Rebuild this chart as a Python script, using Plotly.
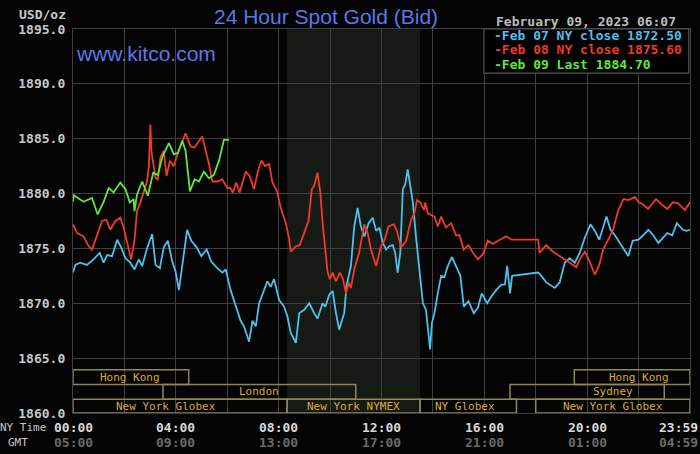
import plotly.graph_objects as go

# time of day in hours (NY time), price in USD/oz
feb07_hours = [0, 0.09, 0.28, 0.54, 0.8, 1.04, 1.19, 1.33, 1.52, 1.72, 1.87, 2.04, 2.23, 2.39, 2.56,
               2.69, 2.88, 3.08, 3.21, 3.38, 3.53, 3.69, 3.86, 3.99, 4.12, 4.29, 4.44, 4.6, 4.81,
               4.99, 5.2, 5.38, 5.61, 5.81, 5.94, 6.13, 6.33, 6.52, 6.65, 6.85, 6.98, 7.11, 7.24,
               7.39, 7.56, 7.69, 7.82, 8.02, 8.21, 8.34, 8.47, 8.67, 8.8, 8.99, 9.19, 9.38, 9.51,
               9.71, 9.82, 9.97, 10.1, 10.23, 10.35, 10.55, 10.64, 10.81, 10.94, 11.07, 11.2,
               11.33, 11.5, 11.66, 11.79, 11.92, 12.05, 12.18, 12.3, 12.44, 12.53, 12.63, 12.73,
               12.83, 12.92, 13.02, 13.08, 13.22, 13.34, 13.47, 13.61, 13.73, 13.82, 13.89, 13.96,
               14.06, 14.19, 14.32, 14.45, 14.58, 14.74, 14.9, 15.07, 15.2, 15.38, 15.59, 15.75,
               15.9, 16.11, 16.27, 16.46, 16.66, 16.8, 16.89, 17.0, 17.08, 17.45, 18.09, 18.22,
               18.41, 18.74, 18.93, 19.13, 19.32, 19.52, 19.71, 19.91, 20.13, 20.3, 20.47, 20.62,
               20.75, 20.91, 21.08, 21.27, 21.47, 21.6, 21.77, 22.0, 22.18, 22.38, 22.57, 22.77,
               22.96, 23.12, 23.31, 23.49, 23.72, 23.87, 24.0]
feb07_price = [1872.8, 1873.5, 1873.7, 1873.5, 1874.0, 1874.6, 1873.7, 1874.4, 1874.3, 1875.8, 1875.1,
               1874.1, 1873.7, 1873.1, 1874.0, 1873.4, 1875.0, 1876.3, 1873.5, 1873.2, 1875.1,
               1875.7, 1873.8, 1872.9, 1871.2, 1874.4, 1876.7, 1875.7, 1875.1, 1874.3, 1874.9,
               1873.8, 1873.2, 1872.8, 1873.1, 1871.2, 1869.7, 1868.4, 1867.9, 1866.5, 1868.4,
               1867.9, 1870.0, 1870.9, 1872.0, 1871.5, 1872.2, 1870.3, 1869.7, 1868.8, 1867.3,
               1866.4, 1869.1, 1869.4, 1870.0, 1869.1, 1868.6, 1870.0, 1869.7, 1870.8, 1871.1,
               1869.1, 1867.6, 1869.1, 1871.6, 1873.4, 1877.0, 1878.7, 1877.0, 1876.1, 1877.3,
               1877.8, 1876.6, 1876.9, 1875.5, 1874.9, 1875.2, 1875.3, 1874.6, 1872.8, 1874.6,
               1880.4, 1880.8, 1882.2, 1881.3, 1879.2, 1876.1, 1873.1, 1870.0, 1869.4, 1867.3,
               1865.8, 1868.2, 1869.1, 1870.9, 1872.5, 1872.4, 1873.4, 1874.2, 1873.4, 1872.5,
               1869.7, 1870.2, 1869.1, 1869.6, 1870.9, 1870.0, 1870.6, 1871.2, 1871.7, 1871.7,
               1873.4, 1870.9, 1872.5, 1872.6, 1872.8, 1872.5, 1871.9, 1871.4, 1871.9, 1873.7,
               1874.1, 1873.7, 1874.6, 1876.0, 1877.2, 1876.6, 1875.8, 1876.9, 1877.9, 1876.7,
               1876.2, 1875.5, 1874.7, 1874.3, 1875.7, 1875.8, 1876.2, 1876.7, 1876.2, 1875.5,
               1876.0, 1876.4, 1876.2, 1877.3, 1876.7, 1876.6, 1876.7]

feb08_hours = [0, 0.16, 0.41, 0.61, 0.74, 0.94, 1.13, 1.3, 1.45, 1.65, 1.84, 1.97, 2.13, 2.26, 2.39,
               2.49, 2.62, 2.75, 2.88, 2.95, 3.01, 3.05, 3.21, 3.3, 3.4, 3.53, 3.64, 3.77, 3.92,
               4.08, 4.25, 4.38, 4.57, 4.73, 4.9, 5.03, 5.16, 5.29, 5.42, 5.61, 5.81, 6.0, 6.13,
               6.22, 6.35, 6.48, 6.72, 6.87, 7.04, 7.21, 7.34, 7.47, 7.63, 7.76, 7.95, 8.08, 8.28,
               8.41, 8.47, 8.67, 8.82, 8.99, 9.16, 9.29, 9.38, 9.51, 9.62, 9.71, 9.81, 9.9, 9.99,
               10.1, 10.23, 10.38, 10.49, 10.62, 10.72, 10.81, 10.94, 11.13, 11.33, 11.46, 11.59,
               11.79, 11.98, 12.11, 12.27, 12.48, 12.6, 12.76, 12.96, 13.15, 13.28, 13.38, 13.51,
               13.65, 13.7, 13.8, 14.06, 14.19, 14.32, 14.51, 14.71, 14.9, 15.03, 15.2, 15.38,
               15.56, 15.75, 15.95, 16.14, 16.33, 16.53, 16.85, 17.05, 18.09, 18.15, 18.41, 18.67,
               18.93, 19.13, 19.32, 19.58, 19.71, 19.91, 20.1, 20.3, 20.47, 20.62, 20.82, 21.01,
               21.21, 21.41, 21.6, 21.86, 22.0, 22.18, 22.37, 22.68, 22.9, 23.12, 23.33, 23.54,
               23.8, 24.0]
feb08_price = [1877.2, 1876.4, 1876.1, 1875.2, 1874.9, 1876.3, 1877.5, 1877.6, 1876.7, 1877.5, 1877.8,
               1876.9, 1875.4, 1874.0, 1875.7, 1878.4, 1879.2, 1880.2, 1881.1, 1882.4, 1886.3,
               1883.9, 1881.4, 1881.3, 1883.3, 1883.9, 1881.6, 1883.0, 1882.5, 1883.7, 1884.8,
               1885.5, 1884.3, 1884.2, 1884.8, 1885.2, 1883.9, 1882.7, 1881.1, 1881.1, 1881.3,
               1880.5, 1880.5, 1880.1, 1881.0, 1880.1, 1882.0, 1881.6, 1880.4, 1882.2, 1883.0,
               1882.5, 1882.7, 1881.0, 1880.1, 1878.7, 1877.3, 1875.8, 1874.7, 1875.2, 1875.3,
               1876.4, 1877.5, 1880.4, 1880.7, 1881.9, 1880.1, 1877.3, 1874.9, 1872.9, 1872.2,
               1872.8, 1872.0, 1872.8, 1872.3, 1870.9, 1871.9, 1871.4, 1873.1, 1874.6, 1877.2,
               1876.4, 1874.9, 1873.4, 1875.2, 1875.7, 1877.0, 1877.2, 1876.6, 1875.1, 1875.7,
               1877.6, 1878.2, 1879.4, 1879.2, 1878.5, 1879.2, 1878.2, 1877.9, 1877.0, 1877.9,
               1876.9, 1877.3, 1876.2, 1876.2, 1874.9, 1875.3, 1874.6, 1874.0, 1874.5, 1875.7,
               1875.4, 1875.7, 1876.1, 1875.8, 1875.8, 1874.6, 1875.3, 1874.7, 1874.3, 1874.0,
               1873.7, 1873.3, 1874.0, 1874.7, 1873.8, 1872.6, 1873.5, 1874.9, 1875.8, 1876.7,
               1878.5, 1879.5, 1879.4, 1879.7, 1879.2, 1879.0, 1878.6, 1879.5, 1879.0, 1878.6,
               1879.2, 1879.1, 1878.5, 1879.2]

feb09_hours = [0, 0.03, 0.41, 0.74, 0.96, 1.19, 1.39, 1.58, 1.84, 2.04, 2.21, 2.36, 2.39, 2.49, 2.69,
               2.91, 3.12, 3.3, 3.47, 3.73, 3.92, 4.08, 4.25, 4.38, 4.55, 4.73, 4.9, 5.09, 5.29,
               5.48, 5.68, 5.87, 6.07]
feb09_price = [1879.25, 1879.85, 1879.25, 1879.6, 1878.1, 1879.25, 1880.5, 1880.1, 1881.0, 1880.4,
               1879.2, 1879.5, 1878.4, 1879.9, 1881.1, 1879.8, 1881.9, 1881.7, 1883.3, 1884.6,
               1883.6, 1883.7, 1884.8, 1883.9, 1880.2, 1881.3, 1881.1, 1882.0, 1881.4, 1881.7,
               1883.0, 1884.9, 1884.9]

legend_labels = ["Feb 07 NY close", "Feb 08 NY close", "Feb 09 Last"]
legend_values = [1872.50, 1875.60, 1884.70]

# trading sessions: name, start hour, end hour, row (0 = bottom)
session_names = ["Hong Kong", "Hong Kong", "London", "Sydney", "New York Globex",
                 "New York NYMEX", "NY Globex", "New York Globex"]
session_start = [0, 19.5, 3.5, 17.0, 0, 8.33, 13.5, 18.0]
session_end = [4.5, 24, 11.0, 23.0, 8.33, 13.5, 17.25, 24]
session_row = [2, 2, 1, 1, 0, 0, 0, 0]
session_label_hour = [2.2, 22.0, 7.25, 21.0, 3.6, 10.9, 15.25, 21.0]

nymex_start, nymex_end = 8.33, 13.5

ny_ticks = ["00:00", "04:00", "08:00", "12:00", "16:00", "20:00", "23:59"]
gmt_ticks = ["05:00", "09:00", "13:00", "17:00", "21:00", "01:00", "04:59"]
tick_hours = [0, 4, 8, 12, 16, 20, 23.55]

colors = ["#4fbfee", "#ee3b26", "#63e63a"]
mono = "DejaVu Sans Mono"
bg = "#040404"
grid = "#404040"

fig = go.Figure()

for hrs, vals, c in zip([feb07_hours, feb08_hours, feb09_hours],
                        [feb07_price, feb08_price, feb09_price], colors):
    fig.add_trace(go.Scatter(x=hrs, y=vals, mode="lines",
                             line=dict(color=c, width=1.8), hoverinfo="skip"))

shapes = []
# NYMEX hours shading
shapes.append(dict(type="rect", xref="x", yref="paper", x0=nymex_start, x1=nymex_end,
                   y0=0, y1=1, fillcolor="#161a15", line_width=0, layer="below"))

row_edges = [1860, 1861.26, 1862.6, 1863.95]
annotations = []
for name, s, e, r, lh in zip(session_names, session_start, session_end, session_row,
                             session_label_hour):
    shapes.append(dict(type="rect", xref="x", yref="y", x0=s, x1=e,
                       y0=row_edges[r], y1=row_edges[r + 1],
                       line=dict(color="#8c8756", width=1.5), layer="above"))
    annotations.append(dict(x=lh, y=(row_edges[r] + row_edges[r + 1]) / 2, xref="x", yref="y",
                            text=name, showarrow=False,
                            font=dict(family=mono, size=11, color="#dcaa2c")))

# legend box
shapes.append(dict(type="rect", xref="paper", yref="paper", x0=0.666, x1=0.998, y0=0.885, y1=1.0,
                   fillcolor="#000000", line=dict(color="#555555", width=1.2), layer="above"))
for i, (lab, val, c) in enumerate(zip(legend_labels, legend_values, colors)):
    annotations.append(dict(x=0.679, y=1.0, xref="paper", yref="paper", xanchor="left",
                            yanchor="middle", yshift=-6.5 - 14.3 * i,
                            text="<b>-%s %.2f</b>" % (lab, val), showarrow=False,
                            font=dict(family=mono, size=13, color=c)))

annotations += [
    dict(x=0.41, y=1.0, xref="paper", yref="paper", yshift=13, yanchor="middle",
         text="24 Hour Spot Gold (Bid)", showarrow=False,
         font=dict(family="Liberation Sans", size=21, color="#5b78e8")),
    dict(x=0.002, y=1.0, xref="paper", yref="paper", xanchor="left", yanchor="middle",
         yshift=-24, text="www.kitco.com", showarrow=False,
         font=dict(family="Liberation Sans", size=21, color="#5b78e8")),
    dict(x=0.981, y=1.0, xref="paper", yref="paper", xanchor="right", yanchor="middle",
         yshift=8, text="<b>February 09, 2023 06:07</b>", showarrow=False,
         font=dict(family=mono, size=13, color="#bcbcbc")),
    dict(x=-0.008, y=1.0, xref="paper", yref="paper", xanchor="right", yanchor="middle",
         yshift=15, text="<b>USD/oz</b>", showarrow=False,
         font=dict(family=mono, size=13, color="#c8c8c8")),
    dict(x=-0.04, y=0, xref="paper", yref="paper", xanchor="right", yanchor="middle",
         yshift=-14, text="NY Time", showarrow=False,
         font=dict(family=mono, size=11, color="#c8c8c8")),
    dict(x=-0.069, y=0, xref="paper", yref="paper", xanchor="right", yanchor="middle",
         yshift=-29, text="GMT", showarrow=False,
         font=dict(family=mono, size=11, color="#c8c8c8")),
]
for h, ny, gmt in zip(tick_hours, ny_ticks, gmt_ticks):
    annotations.append(dict(x=h, y=0, xref="x", yref="paper", yanchor="middle", yshift=-14,
                            text="<b>%s</b>" % ny, showarrow=False,
                            font=dict(family=mono, size=13, color="#d8d8d8")))
    annotations.append(dict(x=h, y=0, xref="x", yref="paper", yanchor="middle", yshift=-29,
                            text="<b>%s</b>" % gmt, showarrow=False,
                            font=dict(family=mono, size=13, color="#6a6a6a")))

fig.update_layout(
    width=700, height=454,
    margin=dict(l=73, r=10, t=29, b=41),
    paper_bgcolor=bg, plot_bgcolor=bg,
    showlegend=False,
    shapes=shapes,
    annotations=annotations,
    xaxis=dict(range=[0, 24], dtick=2, showgrid=True, gridcolor=grid, gridwidth=1.3,
               showticklabels=False, zeroline=False, showline=True, linecolor=grid,
               linewidth=1.3, mirror=True, fixedrange=True),
    yaxis=dict(range=[1860, 1895], dtick=5, tickformat=".1f", showgrid=True, gridcolor=grid,
               gridwidth=1.3, zeroline=False, showline=True, linecolor=grid, linewidth=1.3,
               mirror=True, ticks="", ticklabelstandoff=4, fixedrange=True,
               tickfont=dict(family=mono, size=13, color="#c8c8c8", weight="bold")),
)

# the page's default body margin would push the 700x454 figure off the window
fig.write_html("out.html", config={"displayModeBar": False},
               post_script="document.body.style.margin='0px';")
